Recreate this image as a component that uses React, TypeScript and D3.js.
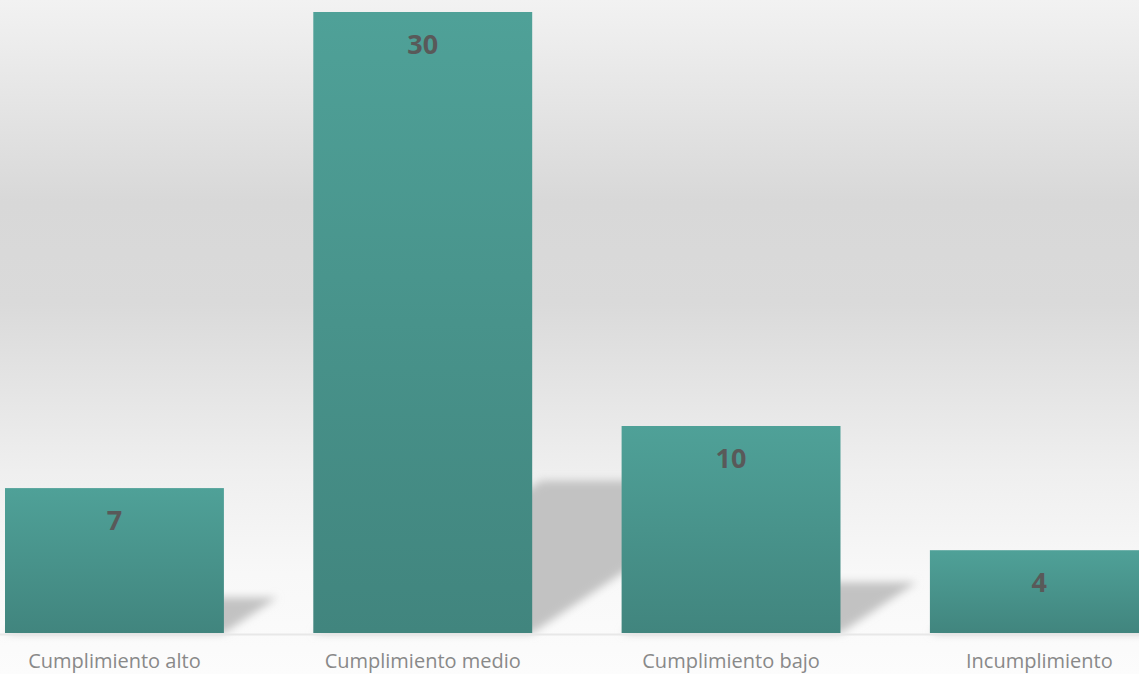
import React from 'react'
import * as d3 from 'd3'

const categories = ['Cumplimiento alto', 'Cumplimiento medio', 'Cumplimiento bajo', 'Incumplimiento']
const counts = [7, 30, 10, 4]

const W = 1139
const H = 674
const BASE = 633

export default function App() {
  const x = d3.scaleBand<string>().domain(categories).range([-39.7, 1193.5]).paddingInner(0.29).paddingOuter(0.145)
  const y = d3.scaleLinear().domain([0, 30]).range([BASE, 12])

  // shadow: bar flattened and skewed to the right along the floor
  const shadow = (i: number) => {
    const x0 = x(categories[i]) as number
    const x1 = x0 + x.bandwidth()
    const sh = (BASE - y(counts[i])) * 0.245
    const dx = sh * 1.5
    const p = d3.path()
    p.moveTo(x0, BASE)
    p.lineTo(x1, BASE)
    p.lineTo(x1 + dx, BASE - sh)
    p.lineTo(x0 + dx, BASE - sh)
    p.closePath()
    return p.toString()
  }

  return (
    <div style={{ position: 'fixed', left: 0, top: 0 }}>
      <svg width={W} height={H} style={{ display: 'block' }}>
        <defs>
          <linearGradient id="bg" x1="0" y1="0" x2="0" y2="1">
            <stop offset="0" stopColor="#f2f2f2" />
            <stop offset="0.3" stopColor="#d8d8d8" />
            <stop offset="0.45" stopColor="#dadada" />
            <stop offset="0.7" stopColor="#efefef" />
            <stop offset="0.85" stopColor="#f8f8f8" />
            <stop offset="1" stopColor="#fcfcfc" />
          </linearGradient>
          <linearGradient id="bar" x1="0" y1="0" x2="0" y2="1">
            <stop offset="0" stopColor="#4fa198" />
            <stop offset="1" stopColor="#41857e" />
          </linearGradient>
          <filter id="blur" x="-20%" y="-20%" width="140%" height="140%">
            <feGaussianBlur stdDeviation="4" />
          </filter>
        </defs>
        <rect x={0} y={0} width={W} height={H} fill="url(#bg)" />
        <g filter="url(#blur)">
          {categories.map((c, i) => (
            <path key={c} d={shadow(i)} fill="#c2c2c2" />
          ))}
        </g>
        <line x1={0} x2={W} y1={BASE + 1.5} y2={BASE + 1.5} stroke="#e8e8e8" strokeWidth={2} />
        {categories.map((c, i) => (
          <rect
            key={c}
            x={x(c)}
            y={y(counts[i])}
            width={x.bandwidth()}
            height={BASE - y(counts[i])}
            fill="url(#bar)"
          />
        ))}
        {categories.map((c, i) => (
          <text
            key={c}
            x={(x(c) as number) + x.bandwidth() / 2}
            y={y(counts[i]) + 42}
            textAnchor="middle"
            fontFamily="'Open Sans', sans-serif"
            fontWeight="bold"
            fontSize={27}
            fill="#595959"
          >
            {counts[i]}
          </text>
        ))}
        {categories.map((c) => (
          <text
            key={c}
            x={(x(c) as number) + x.bandwidth() / 2}
            y={668}
            textAnchor="middle"
            fontFamily="'Open Sans', sans-serif"
            fontSize={20}
            fill="#898989"
          >
            {c}
          </text>
        ))}
      </svg>
    </div>
  )
}
